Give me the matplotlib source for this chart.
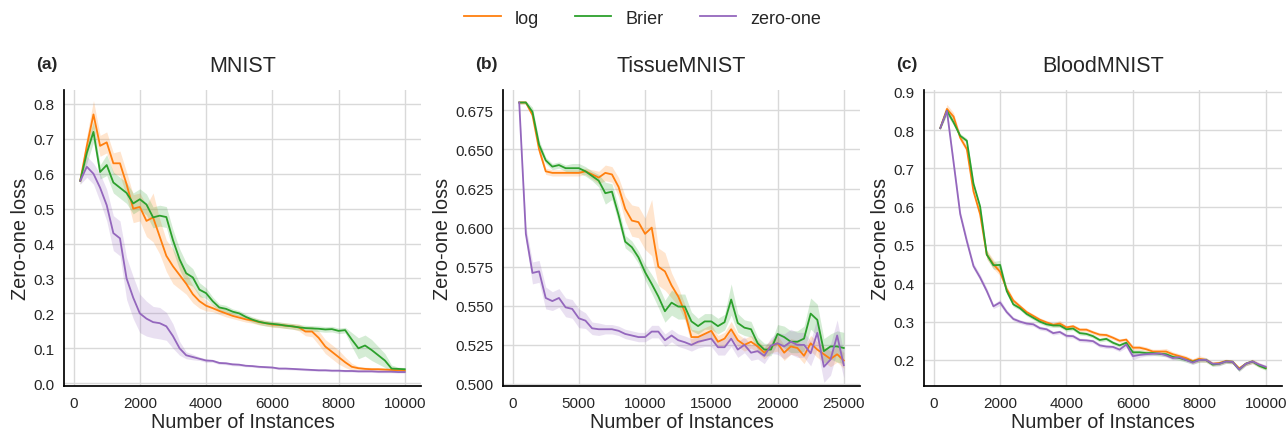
import numpy as np
import matplotlib
matplotlib.use("Agg")
import matplotlib.pyplot as plt

# ---------------- data ----------------
x_mnist = list(range(200, 10001, 200))
x_tissue = list(range(500, 25001, 500))
x_blood = list(range(200, 10001, 200))

mnist_log = [0.58, 0.68, 0.77, 0.68, 0.69, 0.63, 0.63, 0.57, 0.50, 0.505,
             0.465, 0.475, 0.42, 0.365, 0.335, 0.31, 0.285, 0.255, 0.235, 0.222,
             0.215, 0.207, 0.20, 0.193, 0.188, 0.183, 0.18, 0.175, 0.172, 0.168,
             0.167, 0.165, 0.163, 0.16, 0.148, 0.148, 0.13, 0.105, 0.09, 0.075,
             0.06, 0.047, 0.043, 0.041, 0.04, 0.04, 0.039, 0.038, 0.037, 0.036]
mnist_brier = [0.58, 0.66, 0.72, 0.605, 0.625, 0.575, 0.56, 0.545, 0.515, 0.527,
               0.512, 0.475, 0.48, 0.476, 0.41, 0.355, 0.315, 0.303, 0.268, 0.258,
               0.235, 0.217, 0.213, 0.205, 0.20, 0.19, 0.182, 0.176, 0.172, 0.17,
               0.168, 0.165, 0.163, 0.16, 0.158, 0.157, 0.156, 0.154, 0.155, 0.15,
               0.152, 0.125, 0.10, 0.108, 0.095, 0.08, 0.065, 0.042, 0.041, 0.04]
mnist_zo = [0.58, 0.62, 0.60, 0.56, 0.51, 0.43, 0.415, 0.30, 0.245, 0.20,
            0.185, 0.175, 0.172, 0.163, 0.135, 0.10, 0.08, 0.075, 0.07, 0.065,
            0.064, 0.058, 0.057, 0.054, 0.053, 0.05, 0.049, 0.047, 0.046, 0.045,
            0.042, 0.042, 0.041, 0.04, 0.039, 0.038, 0.037, 0.037, 0.036, 0.036,
            0.035, 0.035, 0.034, 0.034, 0.034, 0.033, 0.033, 0.033, 0.032, 0.032]
mnist_log_err = [0.01, 0.03, 0.04, 0.03, 0.03, 0.03, 0.035, 0.035, 0.04, 0.04,
                 0.045, 0.07, 0.05, 0.045, 0.05, 0.04, 0.03, 0.025, 0.02, 0.015,
                 0.01, 0.01, 0.01, 0.008, 0.008, 0.008, 0.008, 0.008, 0.008, 0.008,
                 0.008, 0.008, 0.008, 0.01, 0.012, 0.015, 0.02, 0.02, 0.02, 0.02,
                 0.015, 0.01, 0.005, 0.005, 0.005, 0.005, 0.005, 0.005, 0.005, 0.005]
mnist_brier_err = [0.01, 0.03, 0.03, 0.02, 0.03, 0.03, 0.03, 0.03, 0.03, 0.03,
                   0.03, 0.03, 0.03, 0.03, 0.03, 0.03, 0.03, 0.025, 0.02, 0.015,
                   0.012, 0.01, 0.01, 0.008, 0.008, 0.008, 0.008, 0.008, 0.008, 0.008,
                   0.008, 0.008, 0.008, 0.008, 0.008, 0.008, 0.008, 0.008, 0.008, 0.008,
                   0.008, 0.02, 0.03, 0.03, 0.03, 0.025, 0.02, 0.01, 0.005, 0.005]
mnist_zo_err = [0.01, 0.03, 0.03, 0.04, 0.045, 0.05, 0.05, 0.06, 0.06, 0.055,
                0.05, 0.045, 0.045, 0.04, 0.035, 0.02, 0.01, 0.008, 0.005, 0.005,
                0.004, 0.004, 0.004, 0.004, 0.004, 0.003, 0.003, 0.003, 0.003, 0.003,
                0.003, 0.003, 0.003, 0.003, 0.003, 0.003, 0.003, 0.003, 0.003, 0.003,
                0.003, 0.003, 0.003, 0.003, 0.003, 0.003, 0.003, 0.003, 0.003, 0.003]

tissue_log = [0.68, 0.68, 0.672, 0.65, 0.636, 0.635, 0.635, 0.635, 0.635, 0.635,
              0.636, 0.634, 0.632, 0.635, 0.634, 0.626, 0.612, 0.6045, 0.6035, 0.596,
              0.600, 0.575, 0.572, 0.563, 0.556, 0.546, 0.530, 0.530, 0.532, 0.534,
              0.527, 0.529, 0.535, 0.528, 0.525, 0.527, 0.524, 0.520, 0.524, 0.526,
              0.520, 0.524, 0.523, 0.518, 0.526, 0.522, 0.519, 0.516, 0.519, 0.515]
tissue_brier = [0.68, 0.68, 0.674, 0.653, 0.643, 0.639, 0.640, 0.638, 0.638, 0.638,
                0.636, 0.633, 0.630, 0.622, 0.623, 0.608, 0.591, 0.5875, 0.581, 0.5715,
                0.564, 0.556, 0.5465, 0.552, 0.5495, 0.5495, 0.540, 0.537, 0.540, 0.540,
                0.537, 0.5395, 0.554, 0.539, 0.536, 0.535, 0.526, 0.522, 0.522, 0.532,
                0.530, 0.527, 0.527, 0.529, 0.545, 0.541, 0.521, 0.524, 0.524, 0.523]
tissue_zo = [0.68, 0.596, 0.571, 0.572, 0.555, 0.553, 0.555, 0.549, 0.548, 0.542,
             0.5405, 0.5356, 0.535, 0.535, 0.535, 0.534, 0.532, 0.531, 0.530, 0.530,
             0.5335, 0.5335, 0.528, 0.531, 0.528, 0.5267, 0.525, 0.527, 0.528, 0.529,
             0.5235, 0.5235, 0.529, 0.522, 0.525, 0.520, 0.521, 0.518, 0.5245, 0.526,
             0.524, 0.527, 0.525, 0.525, 0.5196, 0.5327, 0.511, 0.5156, 0.531, 0.512]
tissue_log_err = [0.001, 0.001, 0.002, 0.003, 0.002, 0.002, 0.002, 0.002, 0.002, 0.002,
                  0.002, 0.003, 0.004, 0.005, 0.005, 0.006, 0.008, 0.01, 0.01, 0.01,
                  0.018, 0.012, 0.012, 0.008, 0.006, 0.005, 0.005, 0.004, 0.004, 0.004,
                  0.004, 0.004, 0.005, 0.004, 0.004, 0.004, 0.004, 0.004, 0.004, 0.005,
                  0.005, 0.005, 0.005, 0.005, 0.005, 0.005, 0.005, 0.005, 0.005, 0.005]
tissue_brier_err = [0.001, 0.001, 0.003, 0.003, 0.002, 0.002, 0.002, 0.002, 0.003, 0.003,
                    0.003, 0.003, 0.004, 0.007, 0.005, 0.005, 0.004, 0.004, 0.004, 0.005,
                    0.006, 0.007, 0.007, 0.008, 0.008, 0.008, 0.006, 0.005, 0.005, 0.005,
                    0.005, 0.005, 0.01, 0.006, 0.005, 0.005, 0.004, 0.004, 0.004, 0.006,
                    0.007, 0.007, 0.007, 0.008, 0.01, 0.01, 0.008, 0.008, 0.01, 0.01]
tissue_zo_err = [0.001, 0.005, 0.007, 0.007, 0.007, 0.006, 0.006, 0.006, 0.006, 0.006,
                 0.005, 0.004, 0.004, 0.003, 0.003, 0.003, 0.003, 0.003, 0.003, 0.003,
                 0.004, 0.004, 0.004, 0.004, 0.004, 0.004, 0.004, 0.004, 0.004, 0.005,
                 0.005, 0.005, 0.005, 0.005, 0.005, 0.005, 0.005, 0.005, 0.005, 0.007,
                 0.008, 0.008, 0.008, 0.008, 0.008, 0.01, 0.01, 0.01, 0.01, 0.008]

blood_log = [0.805, 0.855, 0.835, 0.78, 0.75, 0.64, 0.58, 0.475, 0.45, 0.43,
             0.385, 0.355, 0.34, 0.325, 0.315, 0.305, 0.298, 0.292, 0.295, 0.285,
             0.288, 0.279, 0.279, 0.272, 0.266, 0.265, 0.258, 0.25, 0.253, 0.232,
             0.232, 0.228, 0.222, 0.222, 0.222, 0.215, 0.21, 0.205, 0.197, 0.203,
             0.20, 0.19, 0.192, 0.197, 0.195, 0.178, 0.19, 0.196, 0.187, 0.18]
blood_brier = [0.805, 0.85, 0.82, 0.785, 0.772, 0.66, 0.60, 0.475, 0.447, 0.448,
               0.38, 0.345, 0.335, 0.32, 0.31, 0.30, 0.293, 0.29, 0.29, 0.28,
               0.282, 0.27, 0.268, 0.262, 0.252, 0.255, 0.245, 0.238, 0.245, 0.22,
               0.22, 0.218, 0.218, 0.216, 0.215, 0.208, 0.205, 0.20, 0.195, 0.20,
               0.20, 0.188, 0.19, 0.196, 0.195, 0.175, 0.19, 0.196, 0.185, 0.178]
blood_zo = [0.805, 0.85, 0.716, 0.581, 0.51, 0.445, 0.415, 0.38, 0.34, 0.35,
            0.325, 0.307, 0.30, 0.295, 0.293, 0.283, 0.28, 0.27, 0.273, 0.263,
            0.262, 0.252, 0.251, 0.249, 0.238, 0.235, 0.234, 0.227, 0.24, 0.21,
            0.213, 0.215, 0.216, 0.217, 0.212, 0.205, 0.207, 0.20, 0.193, 0.20,
            0.20, 0.19, 0.19, 0.196, 0.195, 0.175, 0.19, 0.196, 0.188, 0.182]
blood_log_err = [0.003, 0.012, 0.01, 0.008, 0.008, 0.008, 0.008, 0.012, 0.012, 0.01,
                 0.008, 0.006, 0.005, 0.005, 0.005, 0.005, 0.005, 0.005, 0.008, 0.005,
                 0.005, 0.005, 0.005, 0.005, 0.005, 0.005, 0.005, 0.005, 0.005, 0.006,
                 0.006, 0.006, 0.006, 0.006, 0.008, 0.006, 0.006, 0.006, 0.006, 0.008,
                 0.006, 0.005, 0.005, 0.005, 0.005, 0.005, 0.005, 0.006, 0.006, 0.005]
blood_brier_err = [0.003, 0.01, 0.008, 0.006, 0.006, 0.006, 0.006, 0.01, 0.01, 0.012,
                   0.008, 0.006, 0.005, 0.005, 0.005, 0.005, 0.005, 0.005, 0.005, 0.005,
                   0.005, 0.005, 0.005, 0.005, 0.005, 0.005, 0.005, 0.005, 0.005, 0.006,
                   0.006, 0.006, 0.006, 0.006, 0.006, 0.006, 0.006, 0.006, 0.006, 0.006,
                   0.006, 0.005, 0.005, 0.005, 0.005, 0.005, 0.005, 0.005, 0.005, 0.005]
blood_zo_err = [0.003, 0.008, 0.01, 0.01, 0.01, 0.008, 0.008, 0.008, 0.006, 0.008,
                0.006, 0.005, 0.005, 0.005, 0.005, 0.005, 0.005, 0.005, 0.005, 0.005,
                0.005, 0.005, 0.005, 0.005, 0.005, 0.005, 0.005, 0.005, 0.008, 0.01,
                0.006, 0.005, 0.005, 0.005, 0.005, 0.005, 0.005, 0.005, 0.005, 0.005,
                0.005, 0.005, 0.005, 0.005, 0.005, 0.005, 0.005, 0.005, 0.005, 0.005]

series_names = ["log", "Brier", "zero-one"]
panel_letters = ["(a)", "(b)", "(c)"]
panel_titles = ["MNIST", "TissueMNIST", "BloodMNIST"]
x_label = "Number of Instances"
y_label = "Zero-one loss"

panels = [
    (x_mnist, [mnist_log, mnist_brier, mnist_zo], [mnist_log_err, mnist_brier_err, mnist_zo_err]),
    (x_tissue, [tissue_log, tissue_brier, tissue_zo], [tissue_log_err, tissue_brier_err, tissue_zo_err]),
    (x_blood, [blood_log, blood_brier, blood_zo], [blood_log_err, blood_brier_err, blood_zo_err]),
]

# ---------------- style ----------------
colors = ["#ff7f0e", "#2ca02c", "#9467bd"]
plt.rcParams["font.family"] = ["Liberation Sans", "DejaVu Sans"]
plt.rcParams["text.color"] = "#262626"
plt.rcParams["axes.labelcolor"] = "#262626"
plt.rcParams["xtick.color"] = "#262626"
plt.rcParams["ytick.color"] = "#262626"

W, H = 1286, 431
fig = plt.figure(figsize=(W / 100, H / 100), dpi=100)

axes_px = [(64, 357), (503, 357), (924, 358)]
top_px, bottom_px = 91, 387
ylims = [(-0.008, 0.84), (0.4987, 0.688), (0.132, 0.9045)]
yticks = [np.arange(0, 0.81, 0.1), np.arange(0.5, 0.676, 0.025), np.arange(0.2, 0.91, 0.1)]
yfmt = ["{:.1f}", "{:.3f}", "{:.1f}"]
xticks = [range(0, 10001, 2000), range(0, 25001, 5000), range(0, 10001, 2000)]

handles = []
for i, ((left, width), (xs, ys, es)) in enumerate(zip(axes_px, panels)):
    ax = fig.add_axes([left / W, (H - bottom_px) / H, width / W, (bottom_px - top_px) / H])
    ax.set_facecolor("white")
    ax.grid(True, color="#d9d9d9", linewidth=1.0)
    ax.set_axisbelow(True)
    for s in ["top", "right"]:
        ax.spines[s].set_visible(False)
    for s in ["left", "bottom"]:
        ax.spines[s].set_color("black")
        ax.spines[s].set_linewidth(1.25)
    ax.tick_params(length=0, labelsize=11, pad=7)
    x = np.array(xs)
    for k, (y, e) in enumerate(zip(ys, es)):
        y = np.array(y)
        e = np.array(e)
        ax.fill_between(x, y - e, y + e, color=colors[k], alpha=0.2, linewidth=0)
        h, = ax.plot(x, y, color=colors[k], linewidth=1.3, label=series_names[k])
        if i == 0:
            handles.append(h)
    ax.set_ylim(*ylims[i])
    ax.set_yticks(yticks[i])
    ax.set_yticklabels([yfmt[i].format(v) for v in yticks[i]])
    ax.set_xticks(list(xticks[i]))
    ax.set_xlabel(x_label, fontsize=14.3, labelpad=2)
    ax.set_ylabel(y_label, fontsize=14.3, labelpad=2)
    ax.set_title(panel_titles[i], fontsize=15.5, pad=14)
    ax.text(-0.078, 1.0 + 27 / (bottom_px - top_px), panel_letters[i], transform=ax.transAxes,
            fontsize=12.5, fontweight="bold", ha="left", va="center")

fig.legend(handles=handles, labels=series_names, loc="center", bbox_to_anchor=(0.5, 1 - 19 / H),
           ncol=3, frameon=False, fontsize=13)

fig.savefig("out.png", dpi=100, facecolor="white")
